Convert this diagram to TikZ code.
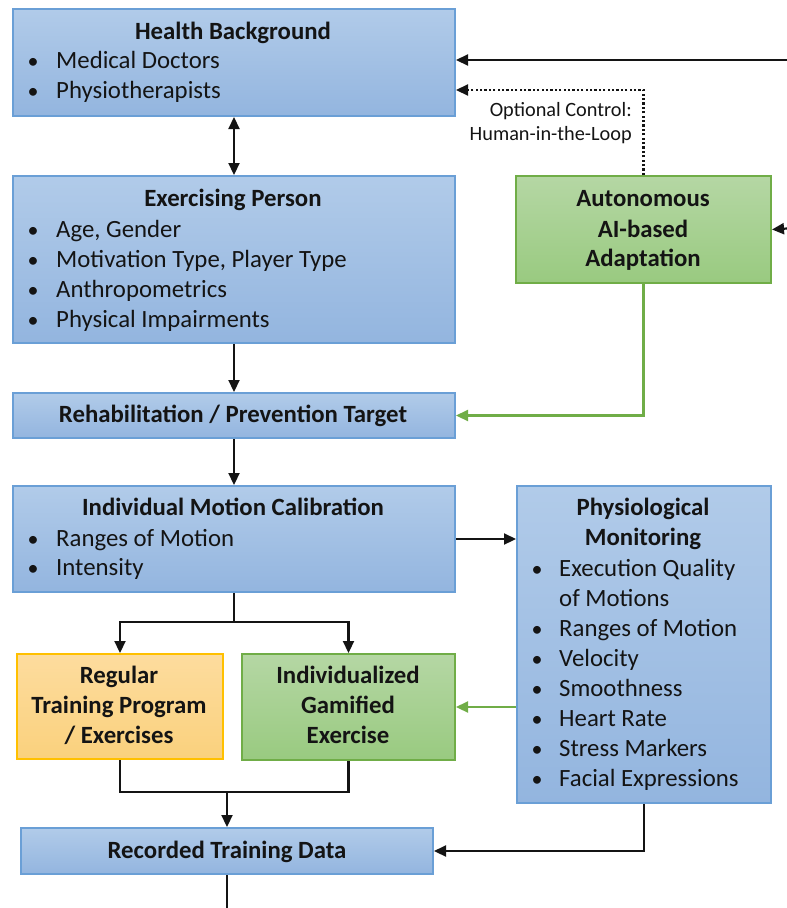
\documentclass[tikz,border=0pt]{standalone}
\usepackage{fontspec}
\setmainfont{Carlito}
\usetikzlibrary{arrows.meta}
\definecolor{bluebd}{HTML}{6A9FD6}
\definecolor{bluetop}{HTML}{B1CBE9}
\definecolor{bluebot}{HTML}{93B5DF}
\definecolor{greenbd}{HTML}{70AD47}
\definecolor{greentop}{HTML}{B5D7A4}
\definecolor{greenbot}{HTML}{99CA80}
\definecolor{orangebd}{HTML}{FFC000}
\definecolor{orangetop}{HTML}{FDDC9E}
\definecolor{orangebot}{HTML}{FAD17D}
\definecolor{txtc}{HTML}{141414}
\begin{document}
\begin{tikzpicture}[x=1pt,y=-1pt,
  boxbase/.style={line width=2pt, inner sep=0pt, anchor=north west},
  bluebox/.style={boxbase, draw=bluebd, top color=bluetop, bottom color=bluebot},
  greenbox/.style={boxbase, draw=greenbd, top color=greentop, bottom color=greenbot},
  orangebox/.style={boxbase, draw=orangebd, top color=orangetop, bottom color=orangebot},
  ttl/.style={anchor=base, inner sep=0pt, text=txtc, font=\fontsize{24.8}{28}\selectfont\bfseries},
  itm/.style={anchor=base west, inner sep=0pt, text=txtc, font=\fontsize{24.8}{28}\selectfont},
  bul/.style={anchor=base, inner sep=0pt, text=txtc, font=\fontsize{22}{28}\selectfont},
  lbl/.style={anchor=base east, inner sep=0pt, text=txtc, font=\fontsize{20.3}{24}\selectfont},
  ln/.style={line width=2.2pt, black!92},
  arr/.style={ln, -{Triangle[length=12pt,width=11pt]}},
  darr/.style={ln, {Triangle[length=12pt,width=11pt]}-{Triangle[length=12pt,width=11pt]}},
  garr/.style={line width=2.2pt, greenbd, -{Triangle[length=12pt,width=11pt]}},
  dotarr/.style={ln, dash pattern=on 2.2pt off 2.2pt, -{Triangle[length=12pt,width=11pt]}}
]
\useasboundingbox (0,0) rectangle (787,908);

% Boxes
\node[bluebox, minimum width=442pt, minimum height=107pt] (hb) at (12,8) {};
\node[bluebox, minimum width=442pt, minimum height=167pt] (ep) at (12,175) {};
\node[bluebox, minimum width=442pt, minimum height=45pt] (rt) at (12,392) {};
\node[bluebox, minimum width=442pt, minimum height=106pt] (mc) at (12,485) {};
\node[orangebox, minimum width=206pt, minimum height=105pt] (rg) at (16,653) {};
\node[greenbox, minimum width=213pt, minimum height=106pt] (gm) at (241,653) {};
\node[bluebox, minimum width=254pt, minimum height=317pt] (pm) at (516,485) {};
\node[bluebox, minimum width=412pt, minimum height=46pt] (rd) at (20,827) {};
\node[greenbox, minimum width=255pt, minimum height=107pt] (ai) at (515,175) {};

% Texts: Health Background
\node[ttl] (hbt) at (233,39) {Health Background};
\node[bul] (hbb1) at (33,68) {•}; \node[itm] (hbi1) at (56,68) {Medical Doctors};
\node[bul] (hbb2) at (33,98) {•}; \node[itm] (hbi2) at (56,98) {Physiotherapists};

% Exercising Person
\node[ttl] (ept) at (233,206) {Exercising Person};
\node[bul] (epb1) at (33,237) {•}; \node[itm] (epi1) at (56,237) {Age, Gender};
\node[bul] (epb2) at (33,267) {•}; \node[itm] (epi2) at (56,267) {Motivation Type, Player Type};
\node[bul] (epb3) at (33,297) {•}; \node[itm] (epi3) at (56,297) {Anthropometrics};
\node[bul] (epb4) at (33,327) {•}; \node[itm] (epi4) at (56,327) {Physical Impairments};

% Rehabilitation
\node[ttl] (rtt) at (233,422) {Rehabilitation / Prevention Target};

% Calibration
\node[ttl] (mct) at (233,515) {Individual Motion Calibration};
\node[bul] (mcb1) at (33,546) {•}; \node[itm] (mci1) at (56,546) {Ranges of Motion};
\node[bul] (mcb2) at (33,575) {•}; \node[itm] (mci2) at (56,575) {Intensity};

% Regular
\node[ttl] (rgt1) at (119,683) {Regular};
\node[ttl] (rgt2) at (119,713) {Training Program};
\node[ttl] (rgt3) at (119,743) {/ Exercises};

% Gamified
\node[ttl] (gmt1) at (348,683) {Individualized};
\node[ttl] (gmt2) at (348,713) {Gamified};
\node[ttl] (gmt3) at (348,743) {Exercise};

% Physiological Monitoring
\node[ttl] (pmt1) at (643,515) {Physiological};
\node[ttl] (pmt2) at (643,545) {Monitoring};
\node[bul] (pmb1) at (537,576) {•}; \node[itm] (pmi1) at (559,576) {Execution Quality};
\node[itm] (pmi1b) at (559,606) {of Motions};
\node[bul] (pmb2) at (537,636) {•}; \node[itm] (pmi2) at (559,636) {Ranges of Motion};
\node[bul] (pmb3) at (537,666) {•}; \node[itm] (pmi3) at (559,666) {Velocity};
\node[bul] (pmb4) at (537,696) {•}; \node[itm] (pmi4) at (559,696) {Smoothness};
\node[bul] (pmb5) at (537,726) {•}; \node[itm] (pmi5) at (559,726) {Heart Rate};
\node[bul] (pmb6) at (537,756) {•}; \node[itm] (pmi6) at (559,756) {Stress Markers};
\node[bul] (pmb7) at (537,786) {•}; \node[itm] (pmi7) at (559,786) {Facial Expressions};

% Autonomous
\node[ttl] (ait1) at (643,206) {Autonomous};
\node[ttl] (ait2) at (643,237) {AI-based};
\node[ttl] (ait3) at (643,266) {Adaptation};

% Recorded
\node[ttl] (rdt) at (227,858) {Recorded Training Data};

% Optional control label
\node[lbl] (ol1) at (632,116) {Optional Control:};
\node[lbl] (ol2) at (632,140) {Human-in-the-Loop};

% Coordinates
\coordinate (in1) at (787,60);
\coordinate (in2) at (787,228.5);
\coordinate (dotc) at (0,90);
\coordinate (split) at (mc.south |- 0,622);
\coordinate (merge) at (rd.north |- 0,792);
\coordinate (out) at (rd.south |- 0,908);

% Connectors
\draw[arr] (in1) -- (hb.east |- in1);
\draw[dotarr] (ai.north) |- (hb.east |- dotc);
\draw[arr] (in2) -- (ai.east);
\draw[darr] (hb.south) -- (ep.north);
\draw[arr] (ep.south) -- (rt.north);
\draw[garr] (ai.south) |- (rt.east);
\draw[arr] (rt.south) -- (mc.north);
\draw[arr] (mc.east) -- (mc.east -| pm.west);
\draw[ln] (mc.south) -- (split);
\draw[arr] (split) -| (rg.north);
\draw[arr] (split) -| (gm.north);
\draw[garr] (pm.west |- gm.east) -- (gm.east);
\draw[ln] (rg.south) |- (merge);
\draw[ln] (gm.south) |- (merge);
\draw[arr] (merge) -- (rd.north);
\draw[arr] (pm.south) |- (rd.east);
\draw[ln] (rd.south) -- (out);
\end{tikzpicture}
\end{document}
